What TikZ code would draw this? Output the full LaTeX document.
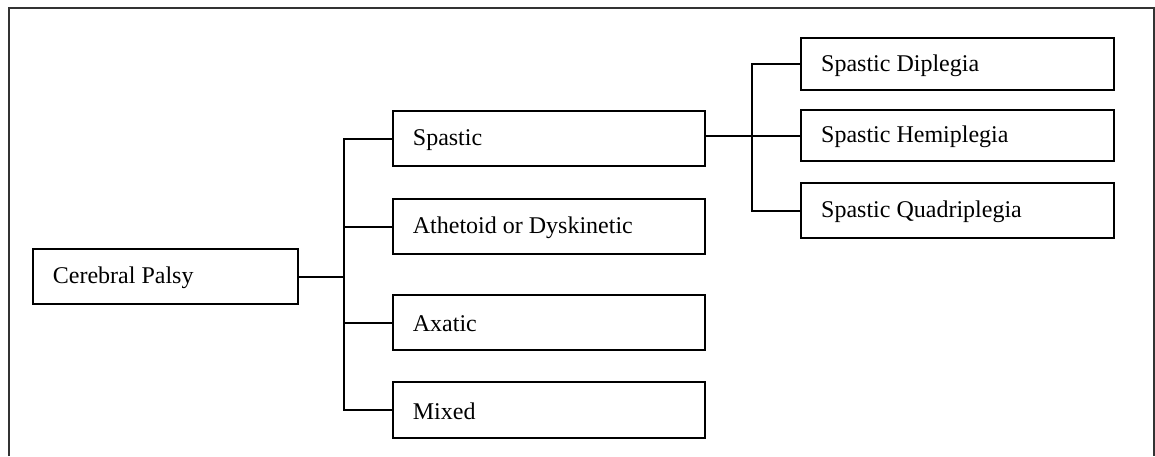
\documentclass[tikz,border=0pt]{standalone}
\usepackage{fontspec}
\setmainfont{Liberation Serif}
\begin{document}
\begin{tikzpicture}[x=1pt,y=-1pt,
  box/.style={draw, line width=2pt, rectangle, inner sep=0pt, anchor=north west},
  label/.style={anchor=west, inner sep=0pt, font=\fontsize{24}{27}\selectfont},
  link/.style={line width=2pt},
  frame/.style={line width=2pt, draw=black!80}]
\useasboundingbox (0,0) rectangle (1155,456);
% outer frame, open at the bottom
\draw[frame] (9,456) -- (9,8) -- (1154,8) -- (1154,456);

% box: name, north west corner, width, height, text
\newcommand{\cpbox}[6]{%
  \node[box, minimum width=#4pt, minimum height=#5pt] (#1) at (#2,#3) {};
  \node[label] at ([xshift=21pt,yshift=-1pt]#1.west) {#6};}
\cpbox{cp}{31.7}{247.7}{265}{55.6}{Cerebral Palsy}
\cpbox{sp}{391.7}{110}{312.6}{55.3}{Spastic}
\cpbox{ath}{391.7}{198.3}{312.6}{55}{Athetoid or Dyskinetic}
\cpbox{ax}{391.7}{294.3}{312.6}{55}{Axatic}
\cpbox{mx}{391.7}{381}{312.6}{55.7}{Mixed}
\cpbox{dip}{800}{37.3}{312.7}{52}{Spastic Diplegia}
\cpbox{hem}{800}{109.3}{312.7}{50.7}{Spastic Hemiplegia}
\cpbox{quad}{800}{181.7}{312.7}{55.6}{Spastic Quadriplegia}

% trunk from Cerebral Palsy
\coordinate (tx) at (344,0);
\draw[link] (cp.east) -- (cp.east -| tx);
\draw[link] (sp.west) -- (sp.west -| tx) -- (mx.west -| tx) -- (mx.west);
\draw[link] (ath.west) -- (ath.west -| tx);
\draw[link] (ax.west) -- (ax.west -| tx);

% trunk from Spastic
\coordinate (sx) at (752.3,0);
\draw[link] (sp.east |- hem.west) -- (hem.west);
\draw[link] (dip.west) -- (dip.west -| sx) -- (quad.west -| sx) -- (quad.west);
\end{tikzpicture}
\end{document}
